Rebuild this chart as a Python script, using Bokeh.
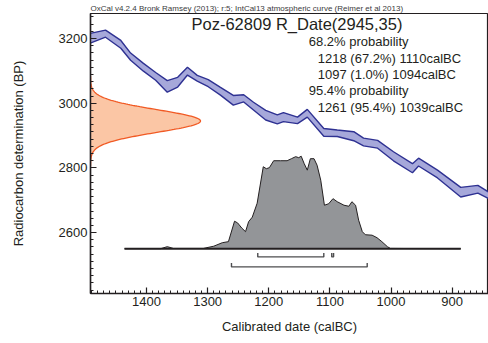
import numpy as np
from bokeh.plotting import figure
from bokeh.models import Range1d, SingleIntervalTicker, Label
from bokeh.embed import file_html
from bokeh.resources import INLINE

# ---------------- data ----------------
# IntCal13 calibration curve (cal BC, BP, 1-sigma)
curve_cal = [1492, 1467, 1442, 1426, 1405, 1385, 1366, 1349, 1333, 1317, 1299,
             1279, 1258, 1241, 1225, 1205, 1186, 1176, 1153, 1137, 1110, 1088,
             1061, 1045, 1022, 996, 965, 955, 924, 886, 858, 841]
curve_bp = [3201, 3215, 3182, 3144, 3111, 3083, 3052, 3065, 3099, 3077, 3062,
            3037, 3009, 3015, 2991, 2963, 2950, 2957, 2947, 2969, 2910, 2907,
            2898, 2880, 2873, 2836, 2799, 2818, 2781, 2725, 2734, 2716]
curve_err = [15, 11, 12, 11, 12, 12, 18, 15, 12, 9, 11,
             12, 15, 11, 12, 15, 14, 14, 10, 12, 12, 10,
             14, 12, 12, 14, 14, 12, 12, 15, 12, 10]

# Radiocarbon date R_Date(2945,35)
date_name = "Poz-62809 R_Date(2945,35)"
date_mean = 2945
date_sd = 35

# Calibrated probability distribution (relative)
post_cal = [1436, 1377, 1366, 1356, 1307, 1290, 1276, 1266, 1256, 1251, 1244,
            1238, 1233, 1227, 1219, 1209, 1204, 1199, 1192, 1181, 1170, 1163,
            1156, 1151, 1147, 1142, 1137, 1132, 1126, 1121, 1115, 1109, 1102,
            1095, 1088, 1077, 1069, 1064, 1058, 1053, 1047, 1042, 1031, 1023,
            1015, 1006, 1001, 952, 886]
post_prob = [0, 0, 0.022, 0.003, 0.003, 0.027, 0.065, 0.076, 0.297, 0.279, 0.222,
             0.184, 0.292, 0.341, 0.492, 0.886, 0.865, 0.876, 0.951, 0.951, 0.951, 0.973,
             0.995, 0.984, 1.0, 0.919, 0.849, 0.973, 0.973, 0.903, 0.741, 0.470, 0.486,
             0.541, 0.508, 0.470, 0.459, 0.508, 0.470, 0.308, 0.184, 0.151, 0.146, 0.119,
             0.076, 0.022, 0.003, 0.001, 0]

# highest probability ranges
range68 = [(1218, 1110), (1097, 1094)]
range95 = [(1261, 1039)]

text_lines = ["68.2% probability",
              "  1218 (67.2%) 1110calBC",
              "  1097 (1.0%) 1094calBC",
              "95.4% probability",
              "  1261 (95.4%) 1039calBC"]

header = "OxCal v4.2.4 Bronk Ramsey (2013); r:5; IntCal13 atmospheric curve (Reimer et al 2013)"

x_ticks_interval = 100
y_ticks_interval = 200

# ---------------- layout ----------------
X0, X1 = 1491.6, 840.6
Y0, Y1 = 2411.8, 3277.3
FL, FR, FT, FB = 90.0, 488.0, 13.3, 293.3   # frame edges in page px

def px_x(px):
    return X0 + (px - FL) * (X1 - X0) / (FR - FL)

def px_y(py):
    return Y1 - (py - FT) * (Y1 - Y0) / (FB - FT)

FONT = "Liberation Sans"
TXT = "#231f20"

p = figure(width=488, height=343, x_range=Range1d(X0, X1), y_range=Range1d(Y0, Y1),
           output_backend="svg", toolbar_location=None,
           min_border_left=90, min_border_right=0, min_border_top=13, min_border_bottom=50)
p.background_fill_color = "white"
p.border_fill_color = "white"
p.xgrid.visible = False
p.ygrid.visible = False
p.outline_line_color = "#231f20"
p.outline_line_width = 1.2

# header as title
p.title.text = header
p.title.text_font = FONT
p.title.text_font_size = "8px"
p.title.text_font_style = "normal"
p.title.text_color = "#3a3a3c"
p.title.align = "left"
p.title.offset = 0
p.title.standoff = 1

for ax in (p.xaxis[0], p.yaxis[0]):
    ax.major_tick_in = 6
    ax.major_tick_out = 0
    ax.minor_tick_in = 3
    ax.minor_tick_out = 0
    ax.axis_line_width = 1.5
    ax.axis_line_color = "#231f20"
    ax.major_tick_line_color = "#231f20"
    ax.minor_tick_line_color = "#231f20"
    ax.major_tick_line_width = 1.2
    ax.minor_tick_line_width = 1
    ax.major_label_text_font = FONT
    ax.major_label_text_font_size = "13px"
    ax.major_label_text_color = TXT
    ax.axis_label_text_font = FONT
    ax.axis_label_text_font_size = "13px"
    ax.axis_label_text_font_style = "normal"
    ax.axis_label_text_color = TXT
    ax.major_label_standoff = 3

p.xaxis.ticker = SingleIntervalTicker(interval=x_ticks_interval, num_minor_ticks=10)
p.yaxis.ticker = SingleIntervalTicker(interval=y_ticks_interval, num_minor_ticks=9)
p.xaxis.axis_label = "Calibrated date (calBC)"
p.yaxis.axis_label = "Radiocarbon determination (BP)"
p.xaxis.axis_label_standoff = 10
p.yaxis.axis_label_standoff = 30

# calibration curve band
cc = np.array(curve_bp, dtype=float)
ce = np.array(curve_err, dtype=float)
p.varea(x=curve_cal, y1=cc - ce, y2=cc + ce, fill_color="#a6a8da", fill_alpha=1)
p.line(curve_cal, cc - ce, line_color="#2e3192", line_width=1.4)
p.line(curve_cal, cc + ce, line_color="#2e3192", line_width=1.4)

# radiocarbon date on the y axis
bp = np.linspace(date_mean - 4 * date_sd, date_mean + 4 * date_sd, 200)
dens = np.exp(-0.5 * ((bp - date_mean) / date_sd) ** 2)
amp = 110 * (X0 - X1) / (FR - FL)
gx = X0 - amp * dens
p.harea(y=bp, x1=np.full_like(bp, X0), x2=gx, fill_color="#fbc6a5", fill_alpha=1)
p.line(gx, bp, line_color="#f15a24", line_width=1.3)

# calibrated distribution
base = px_y(248.5)
scale = 92.5 * (Y1 - Y0) / (FB - FT)
py = base + scale * np.array(post_prob)
p.varea(x=post_cal, y1=np.full(len(post_cal), base), y2=py, fill_color="#939598", fill_alpha=1)
p.line(post_cal, py, line_color="#231f20", line_width=1)
p.line([post_cal[0], post_cal[-1]], [base, base], line_color="#231f20", line_width=2)

# range brackets
tick_h = 4 * (Y1 - Y0) / (FB - FT)
for rng, ypx in ((range68, 256.7), (range95, 266.7)):
    yb = px_y(ypx)
    for a, b in rng:
        p.line([a, a, b, b], [yb + tick_h, yb, yb, yb + tick_h],
               line_color="#4d4d4f", line_width=1.4)

# texts
p.add_layout(Label(x=px_x(191), y=px_y(24), text=date_name, text_font=FONT,
                   text_font_size="16.5px", text_color=TXT, text_baseline="middle",
                   text_align="left"))
line_y = [41.7, 58.3, 74.0, 90.7, 107.3]
for t, ypx in zip(text_lines, line_y):
    xpx = 308.3 if not t.startswith(" ") else 317.3
    p.add_layout(Label(x=px_x(xpx), y=px_y(ypx), text=t.strip(), text_font=FONT,
                       text_font_size="13px", text_color=TXT, text_baseline="middle",
                       text_align="left"))

open("out.html", "w").write(file_html(p, INLINE))
